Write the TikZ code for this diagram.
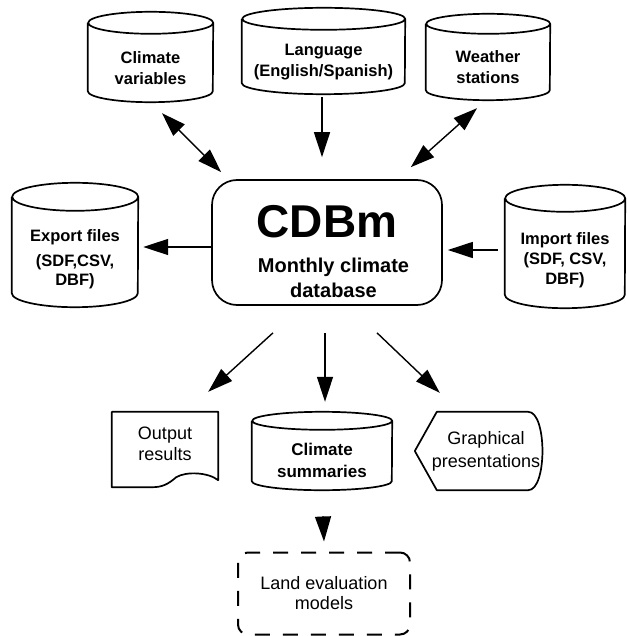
\documentclass[tikz,border=0pt]{standalone}
\usepackage{fontspec}
\setmainfont{Liberation Sans}
\usetikzlibrary{arrows.meta,calc}
\newcommand\mycyl[3]{%
  \draw[shp] ($(#1.north west)+(0,-#3)$) -- ($(#1.south west)+(0,-#3)$)
    arc[start angle=180,end angle=360,x radius=#2pt,y radius=#3pt]
    -- ($(#1.north east)+(0,-#3)$)
    arc[start angle=0,end angle=360,x radius=#2pt,y radius=#3pt];}
\begin{document}
\begin{tikzpicture}[x=1pt,y=-1pt,
  shp/.style={line width=1.7pt, line join=round},
  body/.style={draw=none, rectangle, inner sep=0pt, align=center},
  lbl/.style={font=\bfseries\fontsize{16.5}{21}\selectfont},
  lblr/.style={font=\fontsize{18}{21}\selectfont},
  arr/.style={line width=1.4pt, -{Triangle[length=25pt,width=16pt]}},
  darr/.style={line width=1.4pt, {Triangle[length=24pt,width=16pt]}-{Triangle[length=24pt,width=16pt]}}]
\useasboundingbox (0,0) rectangle (626,636);

% cylinders (node = body below top ellipse)
\node[body,lbl,minimum width=125pt,minimum height=68pt] (cv) at (150.5,68) {Climate\\variables};
\mycyl{cv}{62.5}{11}
\node[body,lbl,minimum width=163pt,minimum height=64pt] (lang) at (323.5,62) {Language\\(English/Spanish)};
\mycyl{lang}{81.5}{11}
\node[body,lbl,minimum width=124pt,minimum height=66pt] (ws) at (488,67) {Weather\\stations};
\mycyl{ws}{62}{10}
\node[body,lbl,font=\bfseries\fontsize{16.5}{19}\selectfont,minimum width=126pt,minimum height=96pt] (ex) at (75,259) {Export files\\[6pt](SDF,CSV,\\DBF)};
\mycyl{ex}{63}{14}
\node[body,lbl,font=\bfseries\fontsize{16.5}{20}\selectfont,minimum width=120pt,minimum height=96pt] (im) at (565,260) {Import files\\(SDF, CSV,\\DBF)};
\mycyl{im}{60}{13.5}
\node[body,lbl,font=\bfseries\fontsize{17}{22}\selectfont,minimum width=140pt,minimum height=60pt] (sum) at (322,460) {Climate\\summaries};
\mycyl{sum}{70}{9}

% central database box
\node[shp,draw,rectangle,rounded corners=25pt,minimum width=230pt,minimum height=125pt,inner sep=0pt,align=center,
  font=\bfseries\fontsize{20}{25}\selectfont] (db) at (327,242.5)
  {\rule{0pt}{51pt}{\fontsize{46}{46}\selectfont CDBm}\\[10pt]\hspace*{13pt}Monthly climate\\\hspace*{13pt}database};

% output results (document)
\node[body,lblr,minimum width=106pt,minimum height=64pt] (out) at (165,444) {Output\\results};
\draw[shp] (out.north west) -- (out.north east) -- ($(out.south east)+(0,4)$)
  .. controls ($(out.south east)+(-10,-4)$) and ($(out.south east)+(-32,-5)$) .. ($(out.south east)+(-42,1)$)
  .. controls ($(out.south east)+(-50,8)$) and ($(out.south east)+(-56,11)$) .. ($(out.south east)+(-66,11)$)
  -- ($(out.south west)+(0,11)$) -- cycle;

% graphical presentations (display)
\node[body,font=\fontsize{18}{23}\selectfont,minimum width=110pt,minimum height=78pt] (gp) at (486,451) {Graphical\\presentations};
\draw[shp] ($(gp.north west)+(6,0)$) -- ($(gp.north east)+(-13,0)$)
  .. controls ($(gp.north east)+(6,0)$) and ($(gp.south east)+(6,0)$) .. ($(gp.south east)+(-13,0)$)
  -- ($(gp.south west)+(6,0)$) -- ($(gp.west)+(-16,0)$) -- cycle;

% land evaluation models
\node[draw,line width=2pt,dash pattern=on 15pt off 13pt,rectangle,rounded corners=10pt,minimum width=172pt,minimum height=82pt,
  inner sep=0pt,align=center,font=\fontsize{18}{20}\selectfont] (land) at (324,593.5) {Land evaluation\\models};

% connectors
\draw[darr] ($(cv.south)+(11.5,11)$) -- ($(db.north west)+(10,-7)$);
\draw[arr] ($(lang.south)+(-1.5,3)$) -- ($(db.north)+(-5,-22)$);
\draw[darr] ($(ws.south)+(-11,8)$) -- ($(db.north east)+(-32,-12)$);
\draw[arr] ($(db.west)+(0,4.5)$) -- ($(ex.east)+(5,-12)$);
\draw[arr] ($(im.west)+(-7,-10)$) -- ($(db.east)+(5,7.5)$);
\draw[arr] ($(db.south)+(-54,27)$) -- ($(out.north east)+(-10,-20)$);
\draw[arr] ($(db.south)+(-2,27)$) -- ($(sum.north)+(3,-28)$);
\draw[arr] ($(db.south)+(50,27)$) -- ($(gp.north west)+(9,-19)$);
\draw[arr] ($(sum.south)+(1,26)$) -- ($(land.north)+(0,-10)$);
\end{tikzpicture}
\end{document}
